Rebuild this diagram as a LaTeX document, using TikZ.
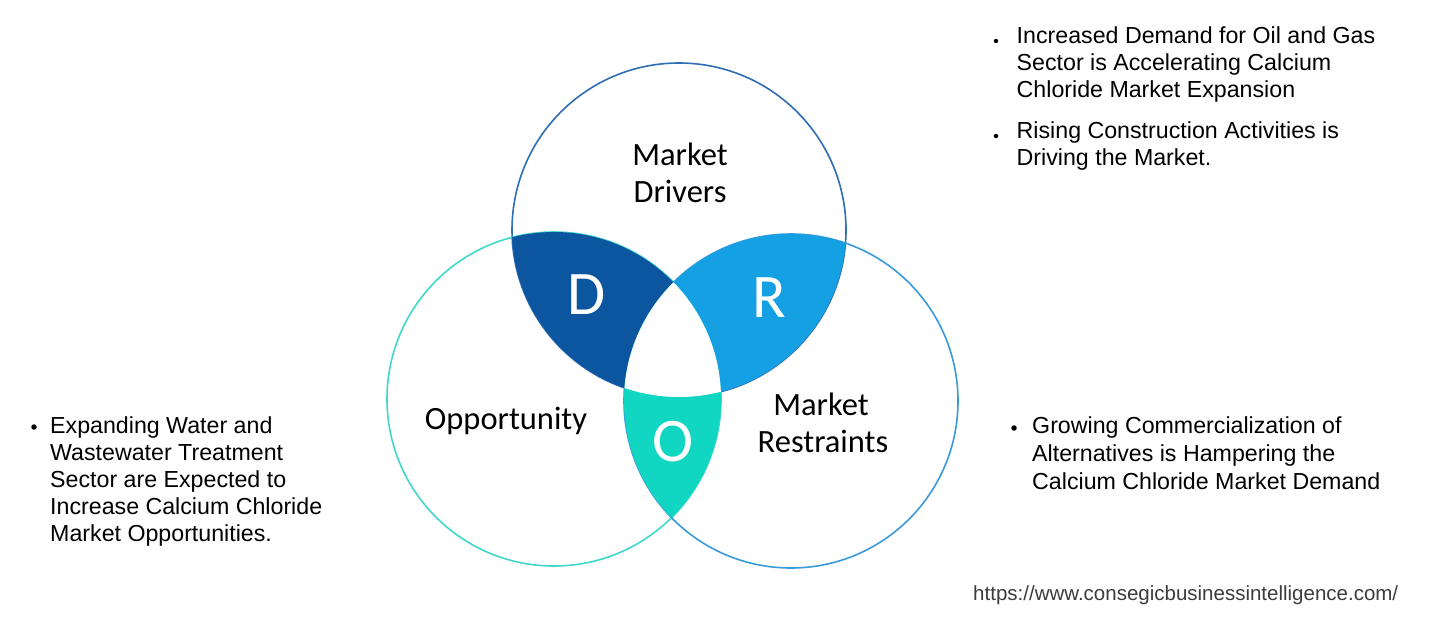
\documentclass[tikz,border=0pt]{standalone}
\usepackage{fontspec}
\setmainfont{Liberation Sans}
\newfontfamily\carlito{Carlito}
\definecolor{dcol}{HTML}{0C56A0}
\definecolor{rcol}{HTML}{14A0E2}
\definecolor{ocol}{HTML}{10D6C2}
\definecolor{tline}{HTML}{2F6EB5}
\definecolor{lline}{HTML}{40D8CC}
\definecolor{rline}{HTML}{3A9BDC}
\definecolor{urlcol}{HTML}{3C3C3C}
\begin{document}
\begin{tikzpicture}[x=1pt,y=-1pt,
  txt/.style={anchor=base west, inner sep=0pt, font=\fontsize{23.2}{27.3}\selectfont},
  lbl/.style={inner sep=0pt, anchor=base, font=\carlito\fontsize{32.5}{36}\selectfont},
  big/.style={inner sep=0pt, anchor=base, text=white, font=\carlito\fontsize{62}{62}\selectfont},
  bdot/.style={circle, fill=black, inner sep=0pt, minimum size=5.5pt},
  sdot/.style={circle, fill=black, inner sep=0pt, minimum size=4.5pt},
  ring/.style={line width=1.6pt}]
\useasboundingbox (0,0) rectangle (1453,643);
\fill[white] (0,0) rectangle (1453,643);
\coordinate (cT) at (679,230);
\coordinate (cL) at (554,399);
\coordinate (cR) at (791,401);
% outlines
\draw[ring, tline] (cT) circle[radius=167];
\draw[ring, lline] (cL) circle[radius=167];
\draw[ring, rline] (cR) circle[radius=167];
% D region
\begin{scope}
  \clip (cT) circle[radius=167];
  \clip (cL) circle[radius=167];
  \fill[dcol] (0,0) rectangle (1453,643);
\end{scope}
% R region
\begin{scope}
  \clip (cT) circle[radius=167];
  \clip (cR) circle[radius=167];
  \fill[rcol] (0,0) rectangle (1453,643);
\end{scope}
% O region
\begin{scope}
  \clip (cL) circle[radius=167];
  \clip (cR) circle[radius=167];
  \fill[ocol] (0,0) rectangle (1453,643);
\end{scope}
% centre
\begin{scope}
  \clip (cT) circle[radius=167];
  \clip (cL) circle[radius=167];
  \clip (cR) circle[radius=167];
  \fill[white] (0,0) rectangle (1453,643);
\end{scope}
% labels
\node[lbl] (md1) at (680,165) {Market};
\node[lbl] (md2) at (680,202) {Drivers};
\node[lbl] (opp) at (506,429) {Opportunity};
\node[lbl] (mr1) at (821,415) {Market};
\node[lbl] (mr2) at (823,452.5) {Restraints};
\node[big] (ld) at (586.5,314) {D};
\node[big] (lr) at (769,317) {R};
\node[big] (lo) at (673,461) {O};
% top-right bullets
\node[sdot] (b1) at (996,41) {};
\node[txt] (t1) at (1016.5,43.3) {\parbox[t]{420pt}{\raggedright Increased Demand for Oil and Gas\\Sector is Accelerating Calcium\\Chloride Market Expansion}};
\node[sdot] (b2) at (996,136) {};
\node[txt] (t2) at (1016.5,138.3) {\parbox[t]{420pt}{\raggedright Rising Construction Activities is\\Driving the Market.}};
% left bullet
\node[bdot] (b3) at (34,427) {};
\node[txt] (t3) at (50,433) {\parbox[t]{320pt}{\raggedright\fontsize{23.2}{27.2}\selectfont Expanding Water and\\Wastewater Treatment\\Sector are Expected to\\Increase Calcium Chloride\\Market Opportunities.}};
% right bullet
\node[bdot] (b4) at (1014,428) {};
\node[txt] (t4) at (1032,433.3) {\parbox[t]{420pt}{\raggedright\fontsize{23.2}{28.3}\selectfont Growing Commercialization of\\Alternatives is Hampering the\\Calcium Chloride Market Demand}};
% url
\node[anchor=base west, inner sep=0pt, text=urlcol, font=\fontsize{20.5}{24}\selectfont] (url) at (973,600) {https://www.consegicbusinessintelligence.com/};
\end{tikzpicture}
\end{document}
